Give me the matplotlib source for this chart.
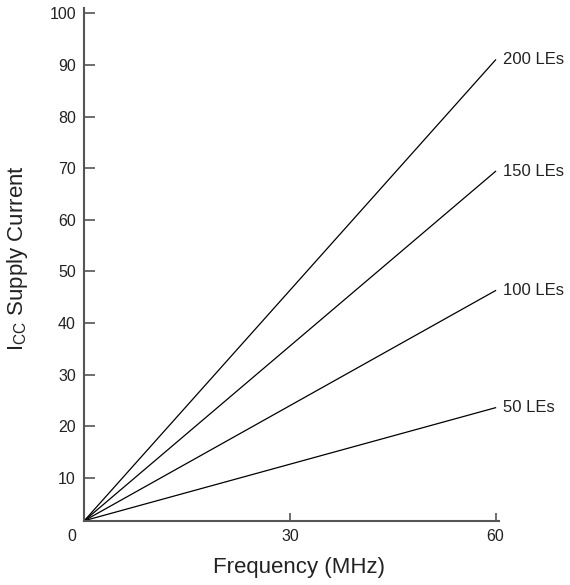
import matplotlib.pyplot as plt

plt.rcParams['font.family'] = ['Liberation Sans', 'DejaVu Sans']
plt.rcParams['mathtext.fontset'] = 'custom'
plt.rcParams['mathtext.rm'] = 'Liberation Sans'
plt.rcParams['mathtext.it'] = 'Liberation Sans'

# data
freq = [0, 60]
icc_start = 1.7
le_labels = ['200 LEs', '150 LEs', '100 LEs', '50 LEs']
icc_at_60 = [91.0, 69.4, 46.3, 23.6]
x_ticks = [30, 60]
y_ticks = [10, 20, 30, 40, 50, 60, 70, 80, 90, 100]

fig = plt.figure(figsize=(5.7, 5.85), dpi=100)
ax = fig.add_axes([0.1479, 0.1099, 0.7275, 0.8759])

for lbl, end in zip(le_labels, icc_at_60):
    ax.plot(freq, [icc_start, end], color='black', lw=0.9)
    ax.annotate(lbl, xy=(freq[-1], end), xytext=(5.5, 0), textcoords='offset points',
                ha='left', va='center', fontsize=12, color='#222222', annotation_clip=False)

ax.set_xlim(0, 60.5)
ax.set_ylim(icc_start, 101)
ax.set_xticks(x_ticks)
ax.set_yticks(y_ticks)

ax.spines['top'].set_visible(False)
ax.spines['right'].set_visible(False)
for s in ['left', 'bottom']:
    ax.spines[s].set_color('#555555')
    ax.spines[s].set_linewidth(1.5)

ax.tick_params(axis='x', direction='in', length=6, width=1.2, color='#555555',
               pad=6, labelsize=11.5, labelcolor='#222222')
ax.tick_params(axis='y', direction='in', length=7.7, width=1.2, color='#555555',
               pad=6, labelsize=11.5, labelcolor='#222222')

# origin label shared by both axes
ax.text(-1.84, -1.35, '0', ha='center', va='center', fontsize=11.5, color='#222222', clip_on=False)

ax.set_xlabel('Frequency (MHz)', fontsize=16, color='#222222', va='center')
ax.xaxis.set_label_coords(0.517, -0.092)
ax.set_ylabel(r'I$_{\mathrm{CC}}$ Supply Current', fontsize=16, color='#222222', va='center')
ax.yaxis.set_label_coords(-0.162, 0.513)

plt.savefig('out.png', dpi=100)
